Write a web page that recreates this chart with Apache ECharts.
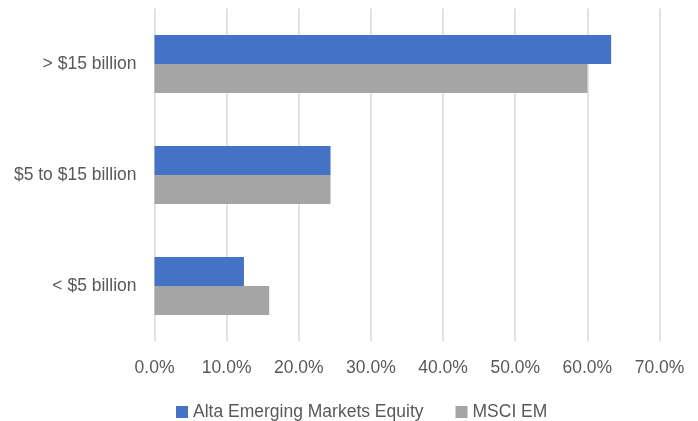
<!DOCTYPE html>
<html>
<head>
<meta charset="utf-8">
<script src="https://cdn.jsdelivr.net/npm/echarts@6/dist/echarts.min.js"></script>
<style>
  html, body { margin: 0; padding: 0; background: #fff; }
  #chart { width: 698px; height: 421px; }
</style>
</head>
<body>
<div id="chart"></div>
<script>
// market cap buckets, top to bottom
const categories = ['> $15 billion', '$5 to $15 billion', '< $5 billion'];
const altaValues = [63.3, 24.4, 12.4];
const msciValues = [60.0, 24.4, 15.9];
const seriesNames = ['Alta Emerging Markets Equity', 'MSCI EM'];

const textColor = '#595959';
const font = 'Liberation Sans, Arial, sans-serif';
const fontSize = 17.5;

const myChart = echarts.init(document.getElementById('chart'));

const option = {
  animation: false,
  grid: {
    left: 154.5,
    right: 38.5,
    top: 8.5,
    bottom: 79.5
  },
  legend: {
    left: 171,
    top: 398,
    itemWidth: 12,
    itemHeight: 12,
    itemGap: 32,
    icon: 'rect',
    textStyle: { color: textColor, fontSize: fontSize, fontFamily: font },
    data: seriesNames
  },
  xAxis: {
    type: 'value',
    min: 0,
    max: 70,
    interval: 10,
    axisLine: { show: false },
    axisTick: { show: false },
    splitLine: { show: true, lineStyle: { color: '#D9D9D9', width: 1.5 } },
    axisLabel: {
      color: textColor,
      fontSize: fontSize,
      fontFamily: font,
      margin: 18,
      formatter: v => v.toFixed(1) + '%'
    }
  },
  yAxis: {
    type: 'category',
    inverse: true,
    data: categories,
    axisLine: { show: false },
    axisTick: { show: false },
    axisLabel: {
      color: textColor,
      fontSize: fontSize,
      fontFamily: font,
      margin: 18
    }
  },
  series: [
    {
      name: seriesNames[0],
      type: 'bar',
      barWidth: 29,
      barGap: '0%',
      itemStyle: { color: '#4472C4' },
      data: altaValues
    },
    {
      name: seriesNames[1],
      type: 'bar',
      barWidth: 29,
      barGap: '0%',
      itemStyle: { color: '#A5A5A5' },
      data: msciValues
    }
  ]
};

myChart.setOption(option);
</script>
</body>
</html>
